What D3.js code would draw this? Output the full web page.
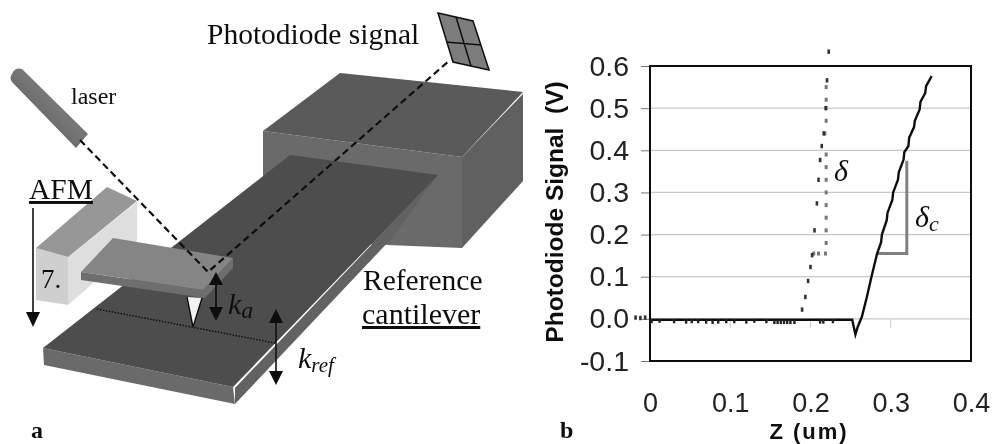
<!DOCTYPE html>
<html>
<head>
<meta charset="utf-8">
<script src="https://d3js.org/d3.v7.min.js"></script>
<style>
	html, body { margin: 0; padding: 0; background: #fff; }
	svg { display: block; }
	.serif { font-family: "Liberation Serif", serif; fill: #111; }
	.sans { font-family: "Liberation Sans", Arial, sans-serif; fill: #111; }
</style>
</head>
<body>
<div id="figure"></div>
<script>
// chart values
const yTicks = [-0.1, 0, 0.1, 0.2, 0.3, 0.4, 0.5, 0.6];
const xTicks = [0, 0.1, 0.2, 0.3, 0.4];
const minorXTicks = [0.1, 0.2, 0.3];

// contact curve, solid (the rise is slightly stepped in the original)
const curveZ = [0, 0.05, 0.1, 0.15, 0.2, 0.252, 0.254, 0.256, 0.259, 0.264, 0.27, 0.276, 0.283, 0.288, 0.289, 0.295, 0.296, 0.302, 0.303, 0.309, 0.31, 0.316, 0.317, 0.322, 0.323, 0.329, 0.33, 0.336, 0.337, 0.343, 0.344, 0.351];
const curveV = [-0.002, -0.002, -0.002, -0.002, -0.002, -0.002, -0.02, -0.037, -0.018, 0.005, 0.05, 0.1, 0.155, 0.182, 0.2, 0.234, 0.252, 0.282, 0.3, 0.33, 0.348, 0.378, 0.396, 0.41, 0.43, 0.455, 0.47, 0.497, 0.515, 0.536, 0.552, 0.576];

// little noise specks along the flat part
const noiseZ = [0.002, 0.012, 0.03, 0.045, 0.052, 0.06, 0.07, 0.078, 0.085, 0.095, 0.105, 0.12, 0.13, 0.145, 0.155, 0.159, 0.163, 0.167, 0.171, 0.175, 0.18, 0.212, 0.216, 0.228];
const noiseV = [-0.008, -0.007, -0.008, -0.009, -0.008, -0.008, -0.009, -0.01, -0.009, -0.008, -0.008, -0.009, -0.007, -0.008, -0.01, -0.01, -0.01, -0.01, -0.01, -0.01, -0.01, -0.009, -0.009, -0.008];

// approach points, black dashes
const approachZ = [-0.018, -0.012, -0.006, 0.1895, 0.1936, 0.197, 0.2, 0.202, 0.205, 0.208, 0.21, 0.212, 0.214, 0.2165, 0.219, 0.2206, 0.2227];
const approachV = [0.003, 0.002, 0.003, 0.022, 0.052, 0.09, 0.123, 0.151, 0.21, 0.274, 0.33, 0.377, 0.41, 0.44, 0.5, 0.566, 0.634];

// retract points, grey dots
const retractZ = [0.204, 0.21, 0.2186, 0.2195, 0.2195, 0.2195, 0.2195, 0.2195, 0.2195, 0.2195, 0.2195, 0.218, 0.2195, 0.2195, 0.2195, 0.2195];
const retractV = [0.155, 0.155, 0.155, 0.18, 0.21, 0.24, 0.27, 0.3, 0.33, 0.36, 0.39, 0.44, 0.47, 0.5, 0.52, 0.55];

// the two deflection triangles
const deltaCZ = [0.283, 0.32, 0.32];
const deltaCV = [0.155, 0.155, 0.375];

// schematic of panel a, painted back to front
const schematicFaces = [
	{ pts: '263,131 462,157 462,248 263,240', fill: '#6a6a6a' },
	{ pts: '462,157 523,94 523,181 462,248', fill: '#616161' },
	{ pts: '340,73 523,92 462,157 263,131', fill: '#5a5a5a' },
	{ pts: '235,388 438,175 392,238 235,404', fill: '#626262' },
	{ pts: '43,348 233,387 235,404 44,365', fill: '#6b6b6b' },
	{ pts: '290,155 438,175 233,387 43,348', fill: '#4d4d4d' },
	{ pts: '36,248 68,257 68,305 36,300', fill: '#cfcfcf' },
	{ pts: '68,257 137,202 137,245 68,305', fill: '#dedede' },
	{ pts: '107,187 137,201 68,257 36,248', fill: '#979797' },
	{ pts: '81,272 203,290 233,258 233,268 205,298 81,280', fill: '#6e6e6e' },
	{ pts: '113,238 233,258 203,290 81,272', fill: '#858585' },
	{ pts: '187,297 202,298 193,327', fill: '#f2f2f2' }
];

const width = 992, height = 444;
const margin = { top: 66, right: 21, bottom: 83, left: 650 };

const svg = d3.select('#figure').append('svg').attr('width', width).attr('height', height);

// the reference is a soft scan
const defs = svg.append('defs');
defs.append('filter').attr('id', 'soft').append('feGaussianBlur').attr('stdDeviation', 0.45);
const laserGrad = defs.append('linearGradient').attr('id', 'laserGrad')
	.attr('x1', 0).attr('y1', 1).attr('x2', 1).attr('y2', 0);
laserGrad.append('stop').attr('offset', '0%').attr('stop-color', '#4a4a4a');
laserGrad.append('stop').attr('offset', '55%').attr('stop-color', '#777');
laserGrad.append('stop').attr('offset', '100%').attr('stop-color', '#5a5a5a');

const art = svg.append('g').attr('filter', 'url(#soft)');

drawSchematic(art.append('g'));
drawPlot(art.append('g'));

function drawSchematic(g) {
	g.selectAll('polygon.face')
		.data(schematicFaces)
		.enter()
		.append('polygon')
		.attr('class', 'face')
		.attr('points', (d) => d.pts)
		.attr('fill', (d) => d.fill);

	// tip outline
	g.append('path').attr('d', 'M187,297 L193,327 L202,298').attr('fill', 'none').attr('stroke', '#111').attr('stroke-width', 1.4);

	// laser body
	g.append('path')
		.attr('d', 'M12,74 Q15,67 22,69 L88,134 L76,148 L12,82 Q9,78 12,74 Z')
		.attr('fill', 'url(#laserGrad)');

	// photodiode
	g.append('polygon').attr('points', '438,13 473,21 489,70 453,62').attr('fill', '#7d7d7d').attr('stroke', '#111').attr('stroke-width', 1.5);
	g.append('path').attr('d', 'M456,17 L471,66 M446,42 L481,45').attr('stroke', '#111').attr('stroke-width', 1.5);

	// beam paths
	g.append('path').attr('d', 'M80,140 L208,272 L450,60').attr('fill', 'none')
		.attr('stroke', '#111').attr('stroke-width', 2.2).attr('stroke-dasharray', '7,4');
	g.append('line').attr('x1', 97).attr('y1', 309).attr('x2', 275).attr('y2', 343)
		.attr('stroke', '#111').attr('stroke-width', 1.5).attr('stroke-dasharray', '1.5,1.5');

	// arrows
	g.append('line').attr('x1', 33).attr('y1', 208).attr('x2', 33).attr('y2', 315).attr('stroke', '#111').attr('stroke-width', 1.6);
	g.append('polygon').attr('points', '26,312 40,312 33,327').attr('fill', '#111');
	g.append('line').attr('x1', 216).attr('y1', 280).attr('x2', 216).attr('y2', 312).attr('stroke', '#111').attr('stroke-width', 1.8);
	g.append('polygon').attr('points', '209,285 223,285 216,272').attr('fill', '#111');
	g.append('polygon').attr('points', '209,307 223,307 216,321').attr('fill', '#111');
	g.append('line').attr('x1', 276).attr('y1', 320).attr('x2', 276).attr('y2', 375).attr('stroke', '#111').attr('stroke-width', 1.6);
	g.append('polygon').attr('points', '269,323 283,323 276,309').attr('fill', '#111');
	g.append('polygon').attr('points', '269,371 283,371 276,385').attr('fill', '#111');

	// labels
	const label = (x, y, size, str) => g.append('text').attr('class', 'serif').attr('x', x).attr('y', y)
		.attr('font-size', size).text(str);
	label(207, 44, 29.5, 'Photodiode signal');
	label(71, 104, 24, 'laser');
	label(29, 199, 29.5, 'AFM').style('text-decoration', 'underline');
	label(41, 288, 27, '7.');
	label(363, 290, 29.5, 'Reference');
	label(362, 324, 30, 'cantilever').style('text-decoration', 'underline');
	label(31, 438, 24, 'a').attr('font-weight', 'bold');

	const ka = label(228, 314, 30, 'k').attr('font-style', 'italic');
	ka.append('tspan').attr('font-size', 24).attr('dy', 4).text('a');
	const kref = label(298, 368, 30, 'k').attr('font-style', 'italic');
	kref.append('tspan').attr('font-size', 21).attr('dy', 4).text('ref');
}

function drawPlot(g) {
	const x = d3.scaleLinear().domain([0, 0.4]).range([margin.left, width - margin.right]);
	const y = d3.scaleLinear().domain([-0.1, 0.6]).range([height - margin.bottom, margin.top]);
	const line = d3.line().x((d) => x(d[0])).y((d) => y(d[1]));
	const zip = (a, b) => a.map((v, i) => [v, b[i]]);

	// gridlines
	g.append('g').selectAll('line')
		.data(yTicks.filter((d) => d !== -0.1 && d !== 0.6))
		.enter()
		.append('line')
		.attr('x1', x(0)).attr('x2', x(0.4))
		.attr('y1', (d) => y(d)).attr('y2', (d) => y(d))
		.attr('stroke', '#c8c8c8').attr('stroke-width', 1.2);

	// small ticks sitting on the zero line
	g.append('g').selectAll('line')
		.data(minorXTicks)
		.enter()
		.append('line')
		.attr('x1', (d) => x(d)).attr('x2', (d) => x(d))
		.attr('y1', y(0)).attr('y2', y(0) + 9)
		.attr('stroke', '#c8c8c8').attr('stroke-width', 1);

	// axes
	const yAxis = g.append('g').attr('transform', `translate(${x(0)},0)`)
		.call(d3.axisLeft(y).tickValues(yTicks).tickSize(9).tickPadding(12).tickFormat((d) => d.toFixed(1)));
	yAxis.select('.domain').remove();
	yAxis.selectAll('line').attr('stroke', '#777').attr('stroke-width', 1);
	yAxis.selectAll('text').attr('font-size', 28.5).attr('font-family', '"Liberation Sans", Arial, sans-serif').attr('fill', '#222');

	const xAxis = g.append('g').attr('transform', `translate(0,${y(-0.1)})`)
		.call(d3.axisBottom(x).tickValues(xTicks).tickSize(0).tickPadding(32).tickFormat((d) => (d === 0 ? '0' : d.toFixed(1))));
	xAxis.select('.domain').remove();
	xAxis.selectAll('text').attr('font-size', 27).attr('font-family', '"Liberation Sans", Arial, sans-serif').attr('fill', '#222');

	// plot frame
	g.append('rect').attr('x', x(0)).attr('y', y(0.6)).attr('width', x(0.4) - x(0)).attr('height', y(-0.1) - y(0.6))
		.attr('fill', 'none').attr('stroke', '#111').attr('stroke-width', 2);

	// retract points
	g.append('g').selectAll('rect')
		.data(zip(retractZ, retractV))
		.enter()
		.append('rect')
		.attr('x', (d) => x(d[0]) - 1.5).attr('y', (d) => y(d[1]) - 2)
		.attr('width', 3).attr('height', 4)
		.attr('fill', '#777');

	// approach points
	g.append('g').selectAll('rect')
		.data(zip(approachZ, approachV))
		.enter()
		.append('rect')
		.attr('x', (d) => x(d[0]) - 1.3).attr('y', (d) => y(d[1]) - 2.2)
		.attr('width', 2.6).attr('height', 4.4)
		.attr('fill', '#333');

	// deflection triangle
	g.append('path').datum(zip(deltaCZ, deltaCV)).attr('d', line)
		.attr('fill', 'none').attr('stroke', '#808080').attr('stroke-width', 3);

	// contact curve
	g.append('path').datum(zip(curveZ, curveV)).attr('d', line)
		.attr('fill', 'none').attr('stroke', '#111').attr('stroke-width', 2.4);
	g.append('g').selectAll('rect')
		.data(zip(noiseZ, noiseV))
		.enter()
		.append('rect')
		.attr('x', (d) => x(d[0]) - 1.2).attr('y', (d) => y(d[1]) - 3)
		.attr('width', 2.4).attr('height', 4)
		.attr('fill', '#222');

	// axis titles
	g.append('text').attr('class', 'sans').attr('text-anchor', 'middle')
		.attr('transform', 'translate(563,212) rotate(-90)')
		.attr('font-size', 24.5).attr('font-weight', 'bold')
		.style('white-space', 'pre').text('Photodiode Signal  (V)');
	g.append('text').attr('class', 'sans').attr('x', 809).attr('y', 439).attr('text-anchor', 'middle')
		.attr('font-size', 22).attr('font-weight', 'bold').attr('letter-spacing', 2).text('Z (um)');
	g.append('text').attr('class', 'serif').attr('x', 560).attr('y', 438).attr('font-size', 24).attr('font-weight', 'bold').text('b');

	// delta labels
	g.append('text').attr('class', 'serif').attr('x', 834).attr('y', 181).attr('font-size', 30).attr('font-style', 'italic').text('δ');
	const dc = g.append('text').attr('class', 'serif').attr('x', 915).attr('y', 227).attr('font-size', 30).attr('font-style', 'italic').text('δ');
	dc.append('tspan').attr('font-size', 22).attr('dy', 4).text('c');
}
</script>
</body>
</html>
